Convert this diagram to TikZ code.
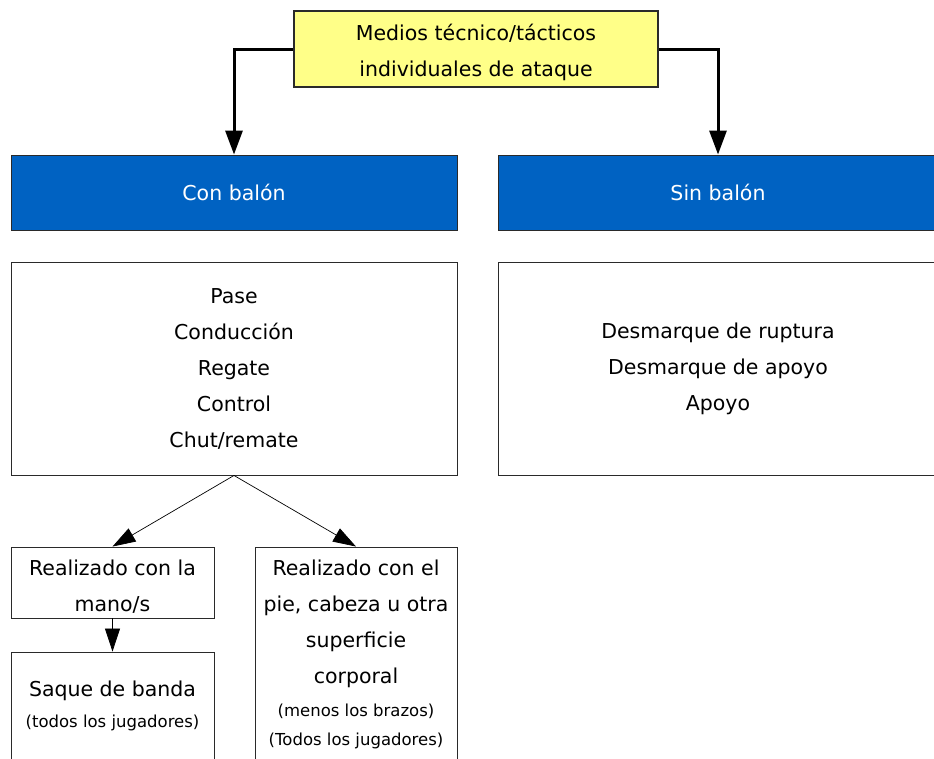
\documentclass[tikz,border=0pt]{standalone}
\usepackage{fontspec}
\setmainfont{DejaVu Sans}
\usetikzlibrary{arrows.meta}
\definecolor{hdrblue}{HTML}{0062C2}
\definecolor{topyellow}{HTML}{FFFF88}
\definecolor{edge}{HTML}{2A2A2A}
\begin{document}
\begin{tikzpicture}[x=1pt,y=-1pt,
  box/.style={draw=edge, line width=0.9pt, fill=white, inner sep=0pt, align=center,
    font=\fontsize{20.5}{36}\selectfont},
  hdr/.style={box, fill=hdrblue, text=white},
  small/.style={font=\fontsize{16.5}{30}\selectfont, align=center, inner sep=0pt},
  txt/.style={font=\fontsize{20.5}{36}\selectfont, align=center, inner sep=0pt},
  thickarr/.style={line width=3pt, -{Triangle[length=24pt,width=17pt]}},
  thinarr/.style={line width=0.7pt, -{Triangle[length=23pt,width=15pt]}}]
\useasboundingbox (0,0) rectangle (934,758);
\clip (0,0) rectangle (934,758);
% top
\node[box, fill=topyellow, line width=1.5pt, minimum width=364pt, minimum height=76pt] (top) at (476,49) {};
\node[txt] (topt) at (476,52) {Medios técnico/tácticos\\individuales de ataque};
% headers
\node[hdr, minimum width=446pt, minimum height=75pt] (con) at (234,192.5) {Con balón};
\node[hdr, minimum width=440pt, minimum height=75pt] (sin) at (718,192.5) {Sin balón};
% lists
\node[box, minimum width=446pt, minimum height=213pt] (lista) at (234,368.5)
  {Pase\\Conducción\\Regate\\Control\\Chut/remate};
\node[box, minimum width=440pt, minimum height=213pt] (listb) at (718,368.5)
  {Desmarque de ruptura\\Desmarque de apoyo\\Apoyo};
% lower boxes
\node[box, minimum width=203pt, minimum height=71pt] (mano) at (112.5,582.5) {};
\node[txt] (manot) at (112.5,587) {Realizado con la\\mano/s};
\node[box, minimum width=203pt, minimum height=160pt] (saque) at (112.5,732) {};
\node[txt] (saquet) at (112.5,691) {Saque de banda};
\node[small] (saques) at (112.5,723) {(todos los jugadores)};
\node[box, minimum width=202pt, minimum height=260pt] (pie) at (356,677) {};
\node[txt, anchor=north] (piet) at (356,560)
  {Realizado con el\\pie, cabeza u otra\\superficie\\corporal};
\node[small] (pies1) at (356,711) {(menos los brazos)};
\node[small] (pies2) at (356,741) {(Todos los jugadores)};
% connectors
\draw[thickarr] (top.west) -| (con.north);
\draw[thickarr] (top.east) -| (sin.north);
\draw[thinarr] (lista.south) -- (mano.north);
\draw[thinarr] (lista.south) -- (pie.north);
\draw[thinarr] (mano.south) -- (saque.north);
\end{tikzpicture}
\end{document}
